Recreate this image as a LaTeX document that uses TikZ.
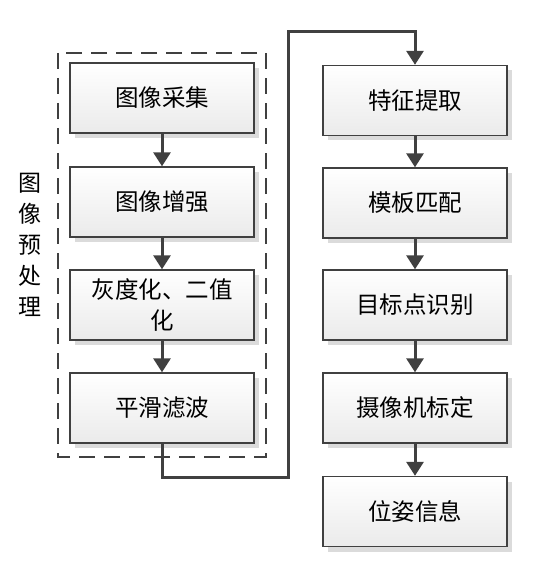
\documentclass[tikz,border=0pt]{standalone}
\usepackage{fontspec}
\setmainfont{Noto Sans CJK SC}
\usetikzlibrary{arrows.meta,shadows}
\definecolor{lc}{HTML}{404040}
\tikzset{
  stepbox/.style={draw=lc, line width=1.4pt, minimum width=184pt, minimum height=70pt,
    top color=white, bottom color=black!8, inner sep=2pt, align=center,
    font=\fontsize{23.5pt}{31pt}\selectfont,
    drop shadow={shadow xshift=5pt, shadow yshift=-5pt, fill=black!14, opacity=1}},
  flow/.style={draw=lc, line width=3pt, -{Triangle[width=17pt,length=14pt]}},
  grp/.style={draw=lc, line width=2pt, dash pattern=on 16pt off 9pt},
}
\begin{document}
\begin{tikzpicture}[x=1pt,y=-1pt]
\useasboundingbox (0,0) rectangle (549,564);
\node[stepbox] (a1) at (162,98) {图像采集};
\node[stepbox] (a2) at (162,202) {图像增强};
\node[stepbox] (a3) at (162,305) {灰度化、二值\\化};
\node[stepbox] (a4) at (162,408) {平滑滤波};
\node[stepbox] (b1) at (415,100.5) {特征提取};
\node[stepbox] (b2) at (415,203) {模板匹配};
\node[stepbox] (b3) at (415,305) {目标点识别};
\node[stepbox] (b4) at (415,408) {摄像机标定};
\node[stepbox] (b5) at (415,511.5) {位姿信息};
\coordinate (g1) at (58,53);
\coordinate (g2) at (266,457);
\draw[grp] (g1) rectangle (g2);
\node[font=\fontsize{23pt}{31pt}\selectfont, align=center, inner sep=0pt] (lab) at (30,245) {图\\像\\预\\处\\理};
\draw[flow] (a1) -- (a2);
\draw[flow] (a2) -- (a3);
\draw[flow] (a3) -- (a4);
\coordinate (c1) at (288,477);
\coordinate (c2) at (288,32);
\draw[flow] (a4.south) |- (c1) -- (c2) -| (b1.north);
\draw[flow] (b1) -- (b2);
\draw[flow] (b2) -- (b3);
\draw[flow] (b3) -- (b4);
\draw[flow] (b4) -- (b5);
\end{tikzpicture}
\end{document}
